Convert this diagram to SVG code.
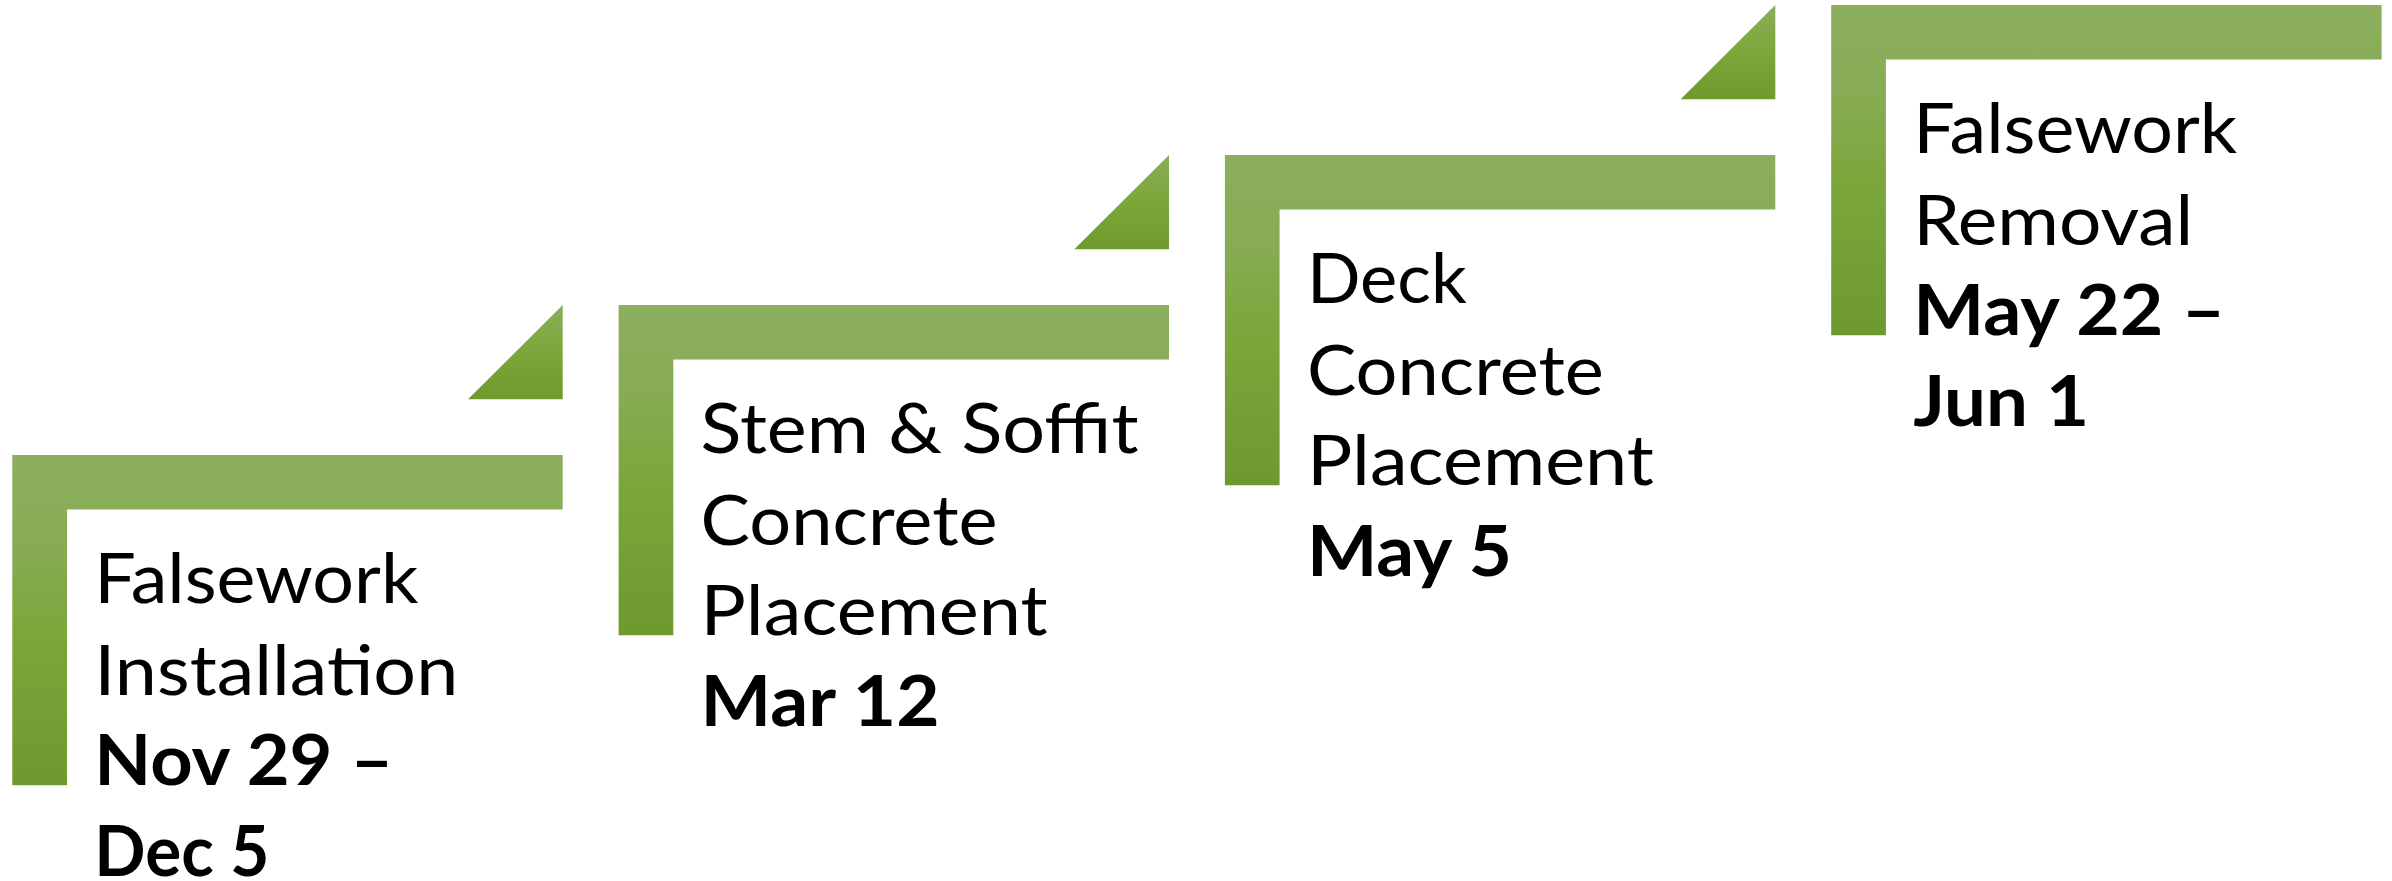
<svg xmlns="http://www.w3.org/2000/svg" width="2392" height="881" viewBox="0 0 2392 881">
  <defs>
    <linearGradient id="gL" x1="0" y1="0" x2="0" y2="1">
      <stop offset="0" stop-color="#8CAE5E"/>
      <stop offset="0.25" stop-color="#88AC55"/>
      <stop offset="0.55" stop-color="#7BA63A"/>
      <stop offset="1" stop-color="#6D992F"/>
    </linearGradient>
    <linearGradient id="gT" x1="0" y1="0" x2="0" y2="1">
      <stop offset="0" stop-color="#8BAE5A"/>
      <stop offset="0.5" stop-color="#7BA73A"/>
      <stop offset="1" stop-color="#6E9A2E"/>
    </linearGradient>
    <path id="lshape" d="M0,0 H550.4 V54.4 H54.7 V330.3 H0 Z"/>
    <path id="tri" d="M455.7,-55.7 L550.4,-150 L550.4,-55.7 Z"/>
  </defs>
  <style>
    .bar { fill: url(#gL); }
    .arr { fill: url(#gT); }
    .t { font-family: Lato, "Liberation Sans", sans-serif; font-size: 69px; fill: #000000; }
    .b { font-family: Lato, "Liberation Sans", sans-serif; font-size: 70px; font-weight: bold; fill: #000000; }
  </style>

  <g id="step1" transform="translate(12.3,455)">
    <use href="#lshape" class="bar"/>
    <use href="#tri" class="arr"/>
    <text class="t" x="82" y="148" textLength="324" lengthAdjust="spacingAndGlyphs">Falsework</text>
    <text class="t" x="82" y="240" textLength="364" lengthAdjust="spacingAndGlyphs">Installation</text>
    <text class="b" x="82" y="330" textLength="299" lengthAdjust="spacingAndGlyphs">Nov 29 –</text>
    <text class="b" x="82" y="421" textLength="175" lengthAdjust="spacingAndGlyphs">Dec 5</text>
  </g>

  <g id="step2" transform="translate(618.6,305)">
    <use href="#lshape" class="bar"/>
    <use href="#tri" class="arr"/>
    <text class="t" x="82" y="148" textLength="438" lengthAdjust="spacingAndGlyphs">Stem &amp; Soffit</text>
    <text class="t" x="82" y="240" textLength="297" lengthAdjust="spacingAndGlyphs">Concrete</text>
    <text class="t" x="82" y="330" textLength="347" lengthAdjust="spacingAndGlyphs">Placement</text>
    <text class="b" x="82" y="421" textLength="239" lengthAdjust="spacingAndGlyphs">Mar 12</text>
  </g>

  <g id="step3" transform="translate(1224.9,155)">
    <use href="#lshape" class="bar"/>
    <use href="#tri" class="arr"/>
    <text class="t" x="82" y="148" textLength="160" lengthAdjust="spacingAndGlyphs">Deck</text>
    <text class="t" x="82" y="240" textLength="297" lengthAdjust="spacingAndGlyphs">Concrete</text>
    <text class="t" x="82" y="330" textLength="347" lengthAdjust="spacingAndGlyphs">Placement</text>
    <text class="b" x="82" y="421" textLength="205" lengthAdjust="spacingAndGlyphs">May 5</text>
  </g>

  <g id="step4" transform="translate(1831.2,5)">
    <use href="#lshape" class="bar"/>
    <text class="t" x="82" y="148" textLength="324" lengthAdjust="spacingAndGlyphs">Falsework</text>
    <text class="t" x="82" y="240" textLength="280" lengthAdjust="spacingAndGlyphs">Removal</text>
    <text class="b" x="82" y="330" textLength="312" lengthAdjust="spacingAndGlyphs">May 22 –</text>
    <text class="b" x="82" y="421" textLength="176" lengthAdjust="spacingAndGlyphs">Jun 1</text>
  </g>

  <g id="connectors"/>
</svg>
